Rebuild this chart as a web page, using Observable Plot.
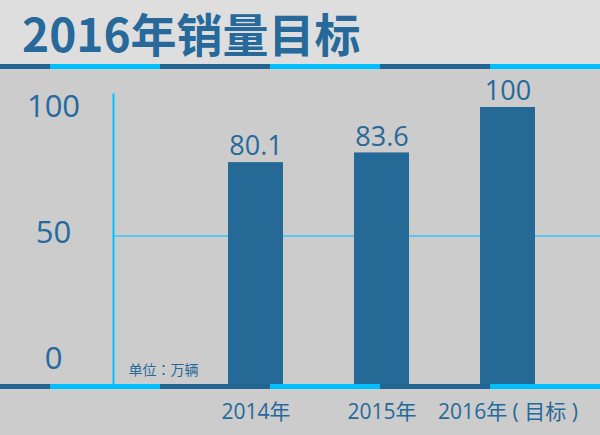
<!DOCTYPE html>
<html>
<head>
<meta charset="utf-8">
<script src="https://cdn.jsdelivr.net/npm/d3@7"></script>
<script src="https://cdn.jsdelivr.net/npm/@observablehq/plot@0.6"></script>
<style>
  html, body { margin: 0; padding: 0; }
  body { width: 600px; height: 435px; background: #cccccc; position: relative; overflow: hidden;
         font-family: 'Noto Sans CJK SC', sans-serif; }
  #title { height: 64px; background: #dedede; color: #26699a; font-weight: 700; font-size: 46px;
           line-height: 64px; padding-left: 22px; box-sizing: border-box; white-space: nowrap;
           font-family: 'Noto Sans CJK SC', sans-serif; }
  .stripe { position: absolute; left: 0; width: 600px; height: 5px;
            background: linear-gradient(to right, #236592 0 50px, #00bfff 50px 160px, #236592 160px 270px,
                        #00bfff 270px 380px, #236592 380px 490px, #00bfff 490px 600px); }
  #chart { position: absolute; top: 69px; left: 0; }
  #chart svg { display: block; }
</style>
</head>
<body>
<div id="title"></div>
<div class="stripe" style="top:64px"></div>
<div id="chart"></div>
<div class="stripe" style="top:384px"></div>
<script>
const titleText = "2016年销量目标";
const years = ["2014年", "2015年", "2016年 ( 目标 )"];
const sales = [80.1, 83.6, 100];
const yTicks = [0, 50, 100];
const gridValues = [50];
const unitLabel = "单位：万辆";

const data = years.map((year, i) => ({year, value: sales[i]}));
document.getElementById("title").textContent = titleText;

const blue = "#26699a";
const tickNudge = {0: -25, 50: -13, 100: 0};

const chart = Plot.plot({
  width: 600,
  height: 366,
  marginTop: 25,
  marginBottom: 51,
  marginLeft: 113,
  marginRight: 0,
  style: {background: "transparent", fontFamily: "'Open Sans','Noto Sans CJK SC',sans-serif", color: blue, overflow: "visible"},
  x: {domain: years, paddingInner: 0.5652, paddingOuter: 0.7075, align: 0.637, label: null},
  y: {domain: [0, 104.7], axis: null},
  marks: [
    Plot.ruleY(gridValues, {stroke: "#5cc6ee", strokeWidth: 2, dy: -10}),
    Plot.barY(data, {x: "year", y: "value", fill: "#256a96"}),
    Plot.frame({anchor: "left", stroke: "#00bfff", strokeWidth: 2}),
    Plot.text(data, {x: "year", y: "value", text: d => String(d.value), dy: -16, fontSize: 27, fill: blue}),
    ...yTicks.map(t => Plot.text([t], {y: d => d, text: d => String(d), frameAnchor: "left", dx: -60,
      dy: tickNudge[t], textAnchor: "middle", fontSize: 31, fill: blue})),
    Plot.axisX({tickSize: 0, tickPadding: 20, fontSize: 21, fill: blue, label: null}),
    Plot.text([unitLabel], {text: d => d, frameAnchor: "bottom-left", dx: 15, dy: -10, textAnchor: "start",
      fontSize: 14, fill: blue, fontFamily: "'Noto Sans CJK JP',sans-serif"})
  ]
});
document.getElementById("chart").appendChild(chart);
</script>
</body>
</html>
